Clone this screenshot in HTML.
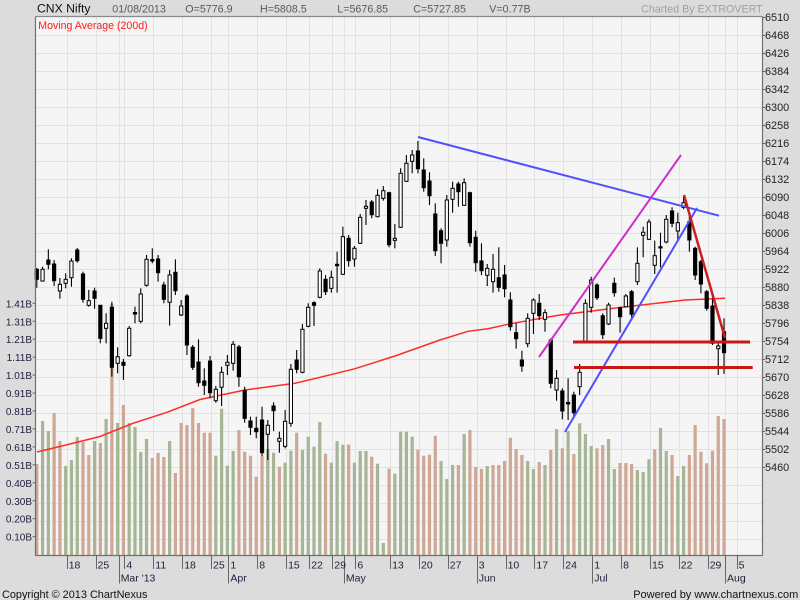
<!DOCTYPE html>
<html><head><meta charset="utf-8">
<style>
html,body{margin:0;padding:0;background:#dcdcdc;}
svg{display:block;font-family:"Liberation Sans",Arial,sans-serif;}
</style></head>
<body>
<svg id="c" width="800" height="600" viewBox="0 0 800 600" xmlns="http://www.w3.org/2000/svg">
<rect x="0" y="0" width="800" height="600" fill="#dcdcdc"/>
<rect x="36" y="17" width="726" height="538" fill="#f5f5f5"/>
<g id="grid" stroke="#e2e2e2" stroke-width="1"></g>
<g id="vol"></g>
<polyline fill="none" stroke="#ff2a2a" stroke-width="1.5" points="37,452 66,445 100,436.5 133,423.3 167,412.3 200,399.5 245,390 295,383.3 320,377.3 355,368.7 395,356 440,340 468,331.3 488,328.7 508,324.3 535,319.3 560,315 620,307.5 685,300 725,298.3"/>
<g id="cdl"></g>
<!-- trend lines -->
<line x1="418" y1="137" x2="719" y2="215.7" stroke="#5050ff" stroke-width="2"/>
<line x1="565" y1="432" x2="697" y2="208" stroke="#5050ff" stroke-width="2"/>
<line x1="539" y1="357" x2="681" y2="155" stroke="#cc30cc" stroke-width="2"/>
<line x1="684" y1="195" x2="725" y2="338" stroke="#cc2020" stroke-width="2.5"/>
<line x1="573" y1="342" x2="750" y2="342" stroke="#cc1515" stroke-width="3"/>
<line x1="574" y1="367.5" x2="752.7" y2="367.5" stroke="#cc1515" stroke-width="3"/>
<!-- axes -->
<g stroke="#707070" stroke-width="1.2" fill="none">
<line x1="35.5" y1="16.5" x2="762.5" y2="16.5" stroke="#8a8a8a"/>
<line x1="35.5" y1="16.5" x2="35.5" y2="555.5"/>
<line x1="762.5" y1="16.5" x2="762.5" y2="555.5"/>
<line x1="35.5" y1="555.5" x2="762.5" y2="555.5"/>
</g>
<g id="ticks" stroke="#666" stroke-width="1"></g>

<!-- header -->
<text x="37" y="12.7" font-size="12.2" fill="#111">CNX Nifty</text>
<g font-size="10.7" fill="#5a5a5a">
<text x="112.3" y="12.7">01/08/2013</text>
<text x="185.3" y="12.7">O=5776.9</text>
<text x="260" y="12.7">H=5808.5</text>
<text x="337.3" y="12.7">L=5676.85</text>
<text x="413.3" y="12.7">C=5727.85</text>
<text x="489.3" y="12.7">V=0.77B</text>
</g>
<text x="762.7" y="12.7" font-size="10.7" fill="#a0a0a0" text-anchor="end">Charted By EXTROVERT</text>
<text x="38.3" y="29" font-size="10.6" fill="#ff1a1a">Moving Average (200d)</text>

<!-- right axis -->
<g font-size="10.9" fill="#222">
<text x="765" y="21">6510</text>
<text x="765" y="39">6468</text>
<text x="765" y="57">6426</text>
<text x="765" y="75">6384</text>
<text x="765" y="93">6342</text>
<text x="765" y="111">6300</text>
<text x="765" y="129">6258</text>
<text x="765" y="147">6216</text>
<text x="765" y="165">6174</text>
<text x="765" y="183">6132</text>
<text x="765" y="201">6090</text>
<text x="765" y="219">6048</text>
<text x="765" y="237">6006</text>
<text x="765" y="255">5964</text>
<text x="765" y="273">5922</text>
<text x="765" y="291">5880</text>
<text x="765" y="309">5838</text>
<text x="765" y="327">5796</text>
<text x="765" y="345">5754</text>
<text x="765" y="363">5712</text>
<text x="765" y="381">5670</text>
<text x="765" y="399">5628</text>
<text x="765" y="417">5586</text>
<text x="765" y="435">5544</text>
<text x="765" y="453">5502</text>
<text x="765" y="471">5460</text>
</g>

<!-- left volume axis -->
<g font-size="10" fill="#1e1e3c" text-anchor="end">
<text x="32" y="307.3">1.41B</text>
<text x="32" y="325.3">1.31B</text>
<text x="32" y="343.2">1.21B</text>
<text x="32" y="361.2">1.11B</text>
<text x="32" y="379.1">1.01B</text>
<text x="32" y="397.1">0.91B</text>
<text x="32" y="415">0.81B</text>
<text x="32" y="433">0.71B</text>
<text x="32" y="451">0.61B</text>
<text x="32" y="468.9">0.51B</text>
<text x="32" y="486.8">0.40B</text>
<text x="32" y="504.8">0.30B</text>
<text x="32" y="522.7">0.20B</text>
<text x="32" y="540.7">0.10B</text>
</g>

<!-- bottom axis labels -->
<g font-size="10.5" fill="#1e1e3c">
<text x="68.7" y="568.5">18</text>
<text x="97.5" y="568.5">25</text>
<text x="126.4" y="568.5">4</text>
<text x="155.3" y="568.5">11</text>
<text x="184.2" y="568.5">18</text>
<text x="213" y="568.5">25</text>
<text x="230.4" y="568.5">1</text>
<text x="259.2" y="568.5">8</text>
<text x="288.1" y="568.5">15</text>
<text x="311.2" y="568.5">22</text>
<text x="334.3" y="568.5">29</text>
<text x="357.4" y="568.5">6</text>
<text x="392.1" y="568.5">13</text>
<text x="421" y="568.5">20</text>
<text x="449.8" y="568.5">27</text>
<text x="478.7" y="568.5">3</text>
<text x="507.6" y="568.5">10</text>
<text x="536.4" y="568.5">17</text>
<text x="565.3" y="568.5">24</text>
<text x="594.2" y="568.5">1</text>
<text x="623.1" y="568.5">8</text>
<text x="652" y="568.5">15</text>
<text x="680.8" y="568.5">22</text>
<text x="709.7" y="568.5">29</text>
<text x="738.6" y="568.5">5</text>
<text x="120.7" y="581.5">Mar '13</text>
<text x="230.4" y="581.5">Apr</text>
<text x="345.9" y="581.5">May</text>
<text x="478.7" y="581.5">Jun</text>
<text x="594.2" y="581.5">Jul</text>
<text x="727" y="581.5">Aug</text>
</g>

<!-- footer -->
<text x="2" y="598" font-size="10.9" fill="#111">Copyright © 2013 ChartNexus</text>
<text x="798.3" y="598" font-size="11" fill="#111" text-anchor="end">Powered by www.chartnexus.com</text>
</svg>
<script>
(function(){
var NS="http://www.w3.org/2000/svg";
function el(tag,attrs,parent){var e=document.createElementNS(NS,tag);for(var k in attrs)e.setAttribute(k,attrs[k]);parent.appendChild(e);return e;}
var grid=document.getElementById('grid'),vol=document.getElementById('vol'),cdl=document.getElementById('cdl'),ticks=document.getElementById('ticks');
// horizontal grid
for(var k=1;k<30;k++){var y=17+18*k+0.5;el('line',{x1:36,y1:y,x2:762,y2:y},grid);}
var TX0=37.8,DX=5.775;
var wk=[5,10,15,20,25,30,33,38,43,47,51,55,61,66,71,76,81,86,91,96,101,106,111,116,121];
var mo=[14,33,53,76,96,119];
var all=wk.concat(mo);
all.forEach(function(i){var x=Math.round(TX0+i*DX)+0.5;if(x<762)el('line',{x1:x,y1:17,x2:x,y2:555},grid);});
wk.forEach(function(i){var x=Math.round(TX0+i*DX)+0.5;el('line',{x1:x,y1:555,x2:x,y2:569},ticks);});
mo.forEach(function(i){var x=Math.round(TX0+i*DX)+0.5;el('line',{x1:x,y1:555,x2:x,y2:583.5},ticks);});
// right ticks
for(var k=0;k<26;k++){var y=17+18*k+0.5;el('line',{x1:762,y1:y,x2:765,y2:y},ticks);}
// left ticks
for(var k=0;k<14;k++){var y=303.3+17.95*k;el('line',{x1:32.5,y1:y,x2:36,y2:y},ticks);}
var C=[
[0,269.3,279.3,268,287.7],[1,269.3,281,266.7,281.7],[0,260,264.3,249.3,269.3],[0,264,280.7,260,286],[1,284.3,291,278,298.7],
[1,279.3,283.3,273.3,288.3],[1,261,277.7,258.3,286.7],[0,250,260.7,248,262.7],[0,274,299.3,271.7,302.7],[1,300.7,305.3,290,306.7],
[0,291,298.3,287.7,308.7],[0,305.3,338.3,305,343.3],[1,323.3,328.3,313.3,343.3],[0,307.3,367.3,301.7,376.7],[1,356.7,363.3,347.3,373.3],
[0,362.3,365.3,359,380],[1,328.3,355.7,326,356.7],[0,312.5,314,306.7,323.3],[1,294,321.3,288.3,323.3],[1,259.3,285.3,255,286.7],
[0,259.5,261,248.3,263.3],[0,259,272.7,255,281.7],[0,285,299.3,281.7,303.3],[1,275,302.3,270,325.7],[0,272.3,290.7,259.3,295],
[1,306,315,300,316],[0,296,345,294,355],[0,347.3,367.3,345,370],[0,362,382.7,339.3,386.7],[0,381,385.3,368.3,395],
[0,361,392.7,356,398.3],[1,389.3,400.7,386,402.7],[1,372.3,387.3,366.7,406],[1,362.3,365.3,355,375],[1,344.3,363.3,341,370.7],
[0,347,376.7,345,386.7],[0,390.7,418.3,386.7,422.7],[0,421,427.3,416.7,435],[0,428.3,431.7,416.7,438.3],[0,420,452.7,406.7,456],
[1,425.3,434.3,420,460],[0,406,410.7,402.3,431],[1,438.3,441.3,431.7,452.7],[1,421.3,446.3,410,448.3],[1,369.3,423.3,364,426.7],
[0,360,369.3,350,373.3],[1,329.3,372.3,324,373.3],[1,307.3,326.3,303.3,327.3],[0,302.7,305.3,301.3,326],[1,271,297.3,268.3,298.3],
[0,279.3,291.7,275,295],[1,277.3,288.3,270.7,292.7],[0,264.3,265.7,251.7,292.7],[1,236.7,274.3,226.7,275],[0,238.3,260.7,235,266.7],
[1,248.3,259,246,266.7],[1,217.3,243.3,214,244],[1,206.3,208.3,200,225],[0,202,214.7,200,218.3],[1,195.3,216.7,189.3,217.3],
[1,190.7,198.3,186,200.7],[0,192.7,244.7,191.7,247.3],[1,238.3,240.3,224,248.3],[1,173.3,227.3,168.3,228],[1,163.3,181.3,155,182],
[1,155,161.3,150,173.3],[0,151,168.7,141,173.3],[0,170,187.7,158.3,191.7],[0,181,195.7,172.3,205],[0,214,250.7,203.3,256],
[0,230.7,243.3,228.3,263.3],[1,200,240,195,246.7],[1,188.3,199.3,181.7,212.7],[0,184,191.7,181.7,206.7],[1,182.7,205.3,178.3,206],
[0,192.7,242.7,191.7,246.7],[0,237.3,262.7,230.7,271.7],[0,261,270.7,243.3,275],[1,268.3,275.3,264,286],[1,269.3,281.7,254,292.7],
[0,277.7,287.3,247.3,291.7],[0,275,288.7,265,297.3],[0,300,326.7,292.3,330.7],[0,332.7,338.7,323.3,348.7],[0,360,366,350.7,371.7],
[1,318.3,343.7,313.3,347.3],[1,300,313.3,298.3,334],[0,303.3,315.7,294,320],[1,312.7,319.3,309.3,331.7],[0,340,383.3,338.3,388.3],
[1,378.3,390,370,400.7],[0,391,411,388.3,419.3],[0,402.5,404,378.3,420],[0,395,412.7,391.7,418.3],[1,372.3,386.7,364,395],
[1,303.3,342.3,299.3,342.3],[1,280,307.3,276.7,312.7],[0,285,297.7,283.3,300],[0,315.7,334.7,313.3,339],[1,305,324,302.7,325],
[0,283.3,292.7,277.7,296.7],[0,307.7,316.7,306.7,332.7],[1,296,306.7,294,307.3],[0,291.7,314.3,290,320],[1,263.3,281.7,247.3,285],
[1,232.3,235.3,226.7,257.3],[1,222,239.3,219.3,240],[1,255.7,265.3,240.7,274],[0,246.7,248,232.7,267.3],[1,219.3,242,215,243.3],
[0,211,223.3,207.3,227.3],[1,222.7,231,212.7,240],[1,202.7,207.5,196,209.3],[0,221.7,240,213.3,251.7],[0,248.3,275,246.7,280],
[0,261.7,284,260,293.3],[0,291.7,308.3,290,310.7],[0,306,343.3,296.7,345],[1,346,348.7,341.7,375],[0,331.7,352.7,318.3,374]
];
var V=[
[464,0],[421,1],[431,1],[413,0],[441,0],[466,1],[460,1],[437,1],[442,0],[455,0],
[441,1],[443,0],[419,1],[304,0],[423,1],[405,0],[423,1],[427,1],[452,1],[439,1],
[458,0],[453,0],[457,0],[441,1],[473,0],[423,0],[425,0],[408,0],[423,0],[432.7,0],
[432.7,0],[455.7,1],[408.7,1],[465.7,1],[451,1],[430,0],[451.7,0],[455.7,0],[476.7,0],[455.7,0],
[449,1],[452.7,1],[466.7,0],[462.7,1],[450.7,1],[432.7,0],[450,1],[436.7,1],[446.7,1],[422,1],
[453.7,0],[462.7,1],[441,1],[444.7,1],[444.7,0],[462.7,1],[451,1],[451,1],[456.7,0],[463.7,1],
[543,1],[468.7,0],[473.7,1],[431.7,1],[431.7,1],[436.7,1],[449.7,0],[455.7,0],[454.7,0],[435.7,0],
[461,1],[479,1],[465,1],[465,0],[434,1],[430,0],[467,0],[469,0],[466,1],[465,0],
[465,0],[461,0],[437.7,0],[449,0],[455,0],[461,1],[469,1],[462,0],[465,1],[450,0],
[429,1],[448.3,0],[431,1],[454,0],[423.3,1],[434,1],[446,1],[448.3,0],[445,0],[439,1],
[469,1],[463,0],[463,0],[464,0],[470,1],[472,1],[459.3,1],[449.3,0],[428,1],[451,1],
[455,0],[476,1],[466,1],[455,0],[425,0],[451.7,0],[463.3,0],[450.7,0],[416,0],[419,0]
];
var X0=36.8;
V.forEach(function(v,i){var x=X0+i*DX;el('rect',{x:(x-1.6).toFixed(2),y:v[0],width:3.2,height:(555-v[0]).toFixed(2),fill:v[1]?'#a5b595':'#cfa795'},vol);});
C.forEach(function(c,i){var x=X0+i*DX;
el('line',{x1:x,y1:c[3],x2:x,y2:c[4],stroke:'#000','stroke-width':1.1},cdl);
var h=Math.max(c[2]-c[1],1.2);
if(c[0]){el('rect',{x:(x-1.6).toFixed(2),y:c[1],width:3.2,height:h.toFixed(2),fill:'#fff',stroke:'#000','stroke-width':1},cdl);}
else{el('rect',{x:(x-2.1).toFixed(2),y:c[1]-0.5,width:4.2,height:(h+1).toFixed(2),fill:'#000'},cdl);}
});
})();
</script>
</body></html>
